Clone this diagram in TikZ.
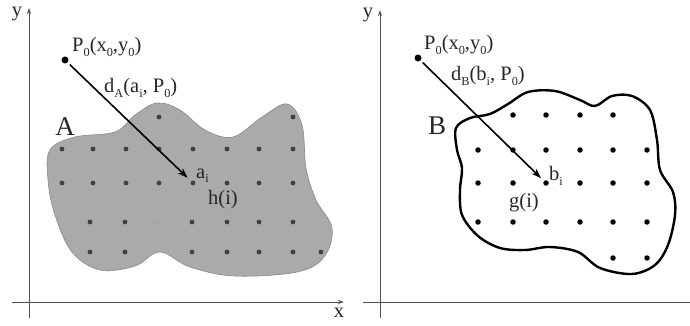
\documentclass[tikz,border=0pt]{standalone}
\usepackage{fontspec}
\setmainfont{Liberation Serif}
\usetikzlibrary{arrows.meta}
\definecolor{blobgray}{RGB}{170,170,170}
\definecolor{axisgray}{RGB}{80,80,80}
\newcommand{\lsub}[1]{\raisebox{-0.45ex}{\scalebox{0.6}{#1}}}

\begin{document}
\begin{tikzpicture}[x=1pt, y=-1pt,
  lbl/.style={font=\fontsize{20.5}{22}\selectfont, inner sep=0pt, text=black!85},
  setname/.style={font=\fontsize{27}{30}\selectfont, inner sep=0pt, text=black!85},
  axis/.style={axisgray, line width=0.9pt, -{Stealth[length=6pt,width=4pt]}},
  arr/.style={line width=1.6pt, -{Stealth[length=10pt,width=7pt]}},
  pt/.style={circle, fill=black, inner sep=0pt, minimum size=7pt},
  dotA/.style={circle, fill=black!75, inner sep=0pt, minimum size=4.8pt},
  dotB/.style={circle, fill=black, inner sep=0pt, minimum size=5.5pt}
]
  \useasboundingbox (0,0) rectangle (690,326);

  \draw[axis] (29,318) -- (29,8);
  \draw[axis] (12,302) -- (344,302);
  \node[lbl] (yA) at (17,14) {y};
  \node[lbl] (xA) at (339,313) {x};

  \draw[blobgray!80!black, fill=blobgray, line width=0.6pt] plot[smooth cycle, tension=0.6] coordinates {
    (50,150) (75,137) (115,132) (135,115) (157,103) (180,110) (205,130) (233,137)
    (262,117) (287,104) (302,125) (306,168) (316,200) (332,228) (324,257) (297,272)
    (235,276) (190,267) (160,252) (135,266) (100,270) (72,252) (55,215) (48,180)};

  \foreach \x in {159,293} \node[dotA] at (\x,117) {};
  \foreach \x in {62,93,126,159,193,227,259,293} \node[dotA] at (\x,149) {};
  \foreach \x in {62,93,126,159,227,259,293} \node[dotA] at (\x,183) {};
  \node[dotA] (ai) at (193,183) {};
  \foreach \x in {90,125,192,227,259,293} \node[dotA] at (\x,222) {};
  \node[dotA, fill=black!35] (dimA) at (157,222) {};
  \foreach \x in {90,125,192,227,259,293,321} \node[dotA] at (\x,252) {};

  \node[pt] (PA) at (65,60) {};
  \draw[arr, shorten <=3pt, shorten >=5pt] (PA) -- (ai);

  \node[lbl, anchor=west] (PAlbl) at (72,47) {P\lsub{0}(x\lsub{0},y\lsub{0})};
  \node[lbl, anchor=west] (dAlbl) at (104,88) {d\lsub{A}(a\lsub{i}, P\lsub{0})};
  \node[setname] (Aname) at (65,127) {A};
  \node[lbl, anchor=west] (ailbl) at (196,176) {a\lsub{i}};
  \node[lbl] (hlbl) at (223,200) {h(i)};

  \draw[axis] (380,318) -- (380,10);
  \draw[axisgray, line width=0.9pt] (363,302) -- (690,302);
  \node[lbl] (yB) at (368,15) {y};

  \draw[black, line width=2.4pt] plot[smooth cycle, tension=0.55] coordinates {
    (456,128) (470,118) (490,114) (508,104) (528,92) (555,91) (580,100) (595,106)
    (612,96) (632,96) (650,110) (657,140) (660,170) (673,192) (675,215) (668,245)
    (655,265) (632,274) (600,268) (578,252) (550,247) (525,250) (500,248) (478,236)
    (462,215) (460,190) (462,168) (457,150)};

  \foreach \x in {513,546,580,613} \node[dotB] at (\x,115) {};
  \foreach \x in {478,513,546,580,613,647} \node[dotB] at (\x,150) {};
  \foreach \x in {478,513,580,613,647} \node[dotB] at (\x,183) {};
  \node[dotB] (bi) at (546,183) {};
  \foreach \x in {478,513,546,580,613,647} \node[dotB] at (\x,222) {};
  \foreach \x in {613,647} \node[dotB] at (\x,258) {};

  \node[pt] (PB) at (418,58) {};
  \draw[arr, shorten <=3pt, shorten >=4pt] (PB) -- (bi);

  \node[lbl, anchor=west] (PBlbl) at (424,45) {P\lsub{0}(x\lsub{0},y\lsub{0})};
  \node[lbl, anchor=west] (dBlbl) at (451,76) {d\lsub{B}(b\lsub{i}, P\lsub{0})};
  \node[setname] (Bname) at (437,126) {B};
  \node[lbl, anchor=west] (bilbl) at (549,176) {b\lsub{i}};
  \node[lbl] (glbl) at (524,203) {g(i)};
\end{tikzpicture}
\end{document}
